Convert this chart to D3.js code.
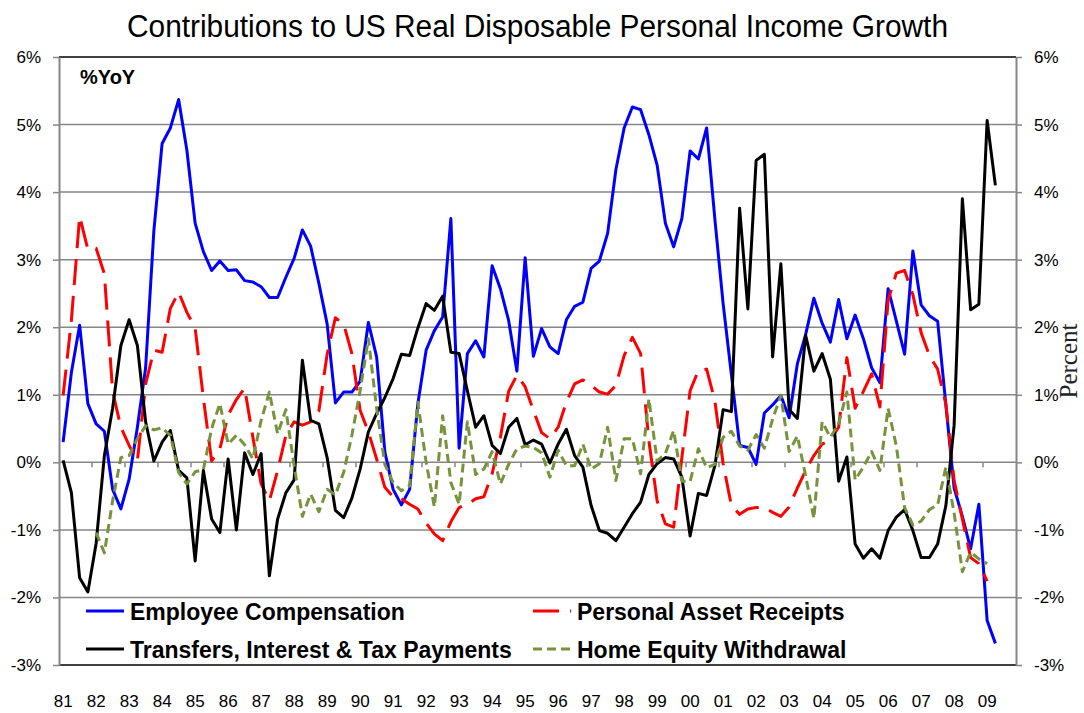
<!DOCTYPE html>
<html>
<head>
<meta charset="utf-8">
<script src="https://d3js.org/d3.v7.min.js"></script>
<style>
  body { margin: 0; background: #fff; }
  text { font-family: "Liberation Sans", Arial, sans-serif; }
</style>
</head>
<body>
<div id="corpo"></div>
<script>
// year labels on the x axis, one per 4 quarters
var years = ["81","82","83","84","85","86","87","88","89","90","91","92","93","94","95",
             "96","97","98","99","00","01","02","03","04","05","06","07","08","09"];
var yTicks = [-3, -2, -1, 0, 1, 2, 3, 4, 5, 6];

var seriesNames = ["Employee Compensation", "Personal Asset Receipts",
                   "Transfers, Interest & Tax Payments", "Home Equity Withdrawal"];

// %YoY contributions, quarterly from 81Q1
var employeeComp = [0.30,1.33,2.03,0.87,0.57,0.46,-0.40,-0.69,-0.25,0.52,
  1.40,3.43,4.72,4.95,5.37,4.62,3.54,3.12,2.84,2.98,
  2.84,2.85,2.69,2.67,2.60,2.44,2.44,2.74,3.02,3.44,
  3.20,2.65,2.05,0.88,1.04,1.04,1.20,2.07,1.56,0.15,
  -0.40,-0.63,-0.40,0.87,1.66,1.95,2.15,3.61,0.21,1.61,
  1.80,1.56,2.91,2.57,2.10,1.35,3.03,1.57,1.98,1.71,
  1.61,2.11,2.31,2.37,2.87,2.98,3.39,4.33,4.95,5.26,
  5.22,4.85,4.40,3.54,3.19,3.61,4.61,4.49,4.95,3.60,
  2.35,1.30,0.25,0.22,-0.03,0.73,0.85,0.99,0.66,1.46,
  1.89,2.43,2.06,1.78,2.41,1.83,2.18,1.83,1.40,1.18,
  2.57,2.09,1.60,3.13,2.33,2.17,2.09,0.85,-0.38,-0.80,
  -1.28,-0.62,-2.34,-2.68];

var assetReceipts = [0.99,2.10,3.64,3.15,3.17,2.79,1.05,0.52,0.25,0.02,
  1.16,1.66,1.63,2.28,2.52,2.22,1.99,0.95,0.02,0.20,
  0.70,0.93,1.10,0.37,-0.32,-0.57,-0.12,0.40,0.60,0.55,
  0.60,0.76,1.60,2.14,2.05,1.61,0.77,0.45,0.05,-0.37,
  -0.51,-0.54,-0.62,-0.69,-0.90,-1.06,-1.16,-0.88,-0.67,-0.62,
  -0.54,-0.51,-0.17,0.37,1.05,1.29,1.12,0.77,0.44,0.35,
  0.52,0.89,1.16,1.22,1.14,1.04,1.01,1.14,1.58,1.85,
  1.61,0.32,-0.57,-0.91,-0.96,0.07,1.06,1.36,1.38,0.91,
  -0.02,-0.64,-0.77,-0.69,-0.67,-0.67,-0.74,-0.80,-0.66,-0.38,
  -0.12,0.10,0.27,0.33,0.52,1.55,0.80,1.05,1.31,0.82,
  2.40,2.80,2.84,2.48,1.92,1.58,1.38,0.86,-0.27,-0.84,
  -1.41,-1.50,-1.76];

var transfersTax = [0.03,-0.45,-1.71,-1.92,-1.20,0.10,0.80,1.73,2.11,1.73,
  0.60,0.02,0.30,0.47,-0.12,-0.23,-1.46,-0.12,-0.84,-1.04,
  0.05,-1.00,0.14,-0.18,0.13,-1.68,-0.84,-0.45,-0.26,1.51,
  0.62,0.57,0.07,-0.71,-0.82,-0.53,-0.10,0.45,0.72,0.96,
  1.24,1.60,1.58,1.99,2.35,2.25,2.46,1.63,1.61,1.06,
  0.52,0.69,0.25,0.13,0.52,0.65,0.26,0.33,0.27,-0.01,
  0.27,0.49,0.10,-0.07,-0.64,-1.01,-1.05,-1.16,-0.96,-0.76,
  -0.59,-0.18,-0.02,0.07,0.05,-0.22,-1.09,-0.46,-0.49,-0.05,
  0.78,0.75,3.76,2.27,4.47,4.56,1.56,2.94,0.78,0.65,
  1.88,1.35,1.61,1.23,-0.28,0.08,-1.21,-1.42,-1.28,-1.42,
  -1.01,-0.81,-0.70,-1.01,-1.41,-1.41,-1.21,-0.64,0.55,3.90,
  2.26,2.34,5.06,4.10];

var homeEquity = [null,null,null,null,-1.04,-1.34,-0.57,0.07,0.10,0.35,
  0.54,0.48,0.51,0.40,-0.15,-0.32,-0.14,-0.11,0.50,0.87,
  0.27,0.40,0.26,0.05,0.62,1.04,0.42,0.78,-0.05,-0.80,
  -0.47,-0.73,-0.40,-0.48,-0.15,0.40,1.06,1.83,0.80,-0.03,
  -0.30,-0.42,-0.35,0.89,0.00,-0.66,0.69,-0.30,-0.62,0.60,
  -0.18,-0.10,0.16,-0.32,-0.03,0.20,0.24,0.22,0.14,-0.22,
  0.18,-0.05,-0.05,0.27,-0.10,-0.02,0.52,-0.27,0.35,0.35,
  -0.17,0.94,0.02,0.13,0.47,-0.28,-0.28,0.20,-0.08,-0.03,
  0.37,0.46,0.24,0.18,0.41,0.21,0.64,0.99,0.16,0.39,
  -0.20,-0.83,0.60,0.37,0.57,1.04,-0.26,-0.07,0.16,-0.12,
  0.80,0.24,-0.67,-0.93,-0.87,-0.70,-0.63,-0.07,-0.75,-1.62,
  -1.33,-1.43,-1.50];

// quarter categories built from the year labels
var quarters = [];
years.forEach(function(yr){
    ["Q1","Q2","Q3","Q4"].forEach(function(q){ quarters.push(yr + q); });
});

var width = 1084, height = 713;
var plotLeft = 59, plotRight = 1016, plotTop = 57, plotBottom = 665;
var gridColor = "#868686";

var svg = d3.select("#corpo").append("svg")
    .attr("width", width)
    .attr("height", height);

var x = d3.scaleBand().domain(quarters).range([plotLeft, plotRight]);
var y = d3.scaleLinear().domain([-3, 6]).range([plotBottom, plotTop]);

function cx(i){ return x(quarters[i]) + x.bandwidth() / 2; }

// title (narrow face, squeezed to the reference width)
svg.append("text")
    .attr("x", 537.5)
    .attr("y", 37)
    .attr("text-anchor", "middle")
    .attr("textLength", 821)
    .attr("lengthAdjust", "spacingAndGlyphs")
    .style("font-family", "'Liberation Sans Narrow', 'Arial Narrow', 'Liberation Sans', sans-serif")
    .style("font-size", "31px")
    .style("fill", "#000")
    .text("Contributions to US Real Disposable Personal Income Growth");

// gridlines
svg.append("g").selectAll("line")
    .data(yTicks.filter(function(d){ return d > -3 && d < 6; }))
    .enter().append("line")
    .attr("x1", plotLeft).attr("x2", plotRight)
    .attr("y1", function(d){ return y(d); })
    .attr("y2", function(d){ return y(d); })
    .style("stroke", gridColor)
    .style("stroke-width", 1.5);

// black border top and bottom of plot area
svg.append("line").attr("x1", plotLeft).attr("x2", plotRight).attr("y1", plotTop).attr("y2", plotTop)
    .style("stroke", "#000").style("stroke-width", 1.5);
svg.append("line").attr("x1", plotLeft).attr("x2", plotRight).attr("y1", plotBottom).attr("y2", plotBottom)
    .style("stroke", "#000").style("stroke-width", 1.5);

// minor tick marks on the zero line, every 4 quarters
svg.append("g").selectAll("line")
    .data(d3.range(4, quarters.length, 4))
    .enter().append("line")
    .attr("x1", function(i){ return x(quarters[i]); })
    .attr("x2", function(i){ return x(quarters[i]); })
    .attr("y1", y(0)).attr("y2", y(0) + 5)
    .style("stroke", gridColor)
    .style("stroke-width", 1.5);

// y axes on both sides
var pctFormat = function(d){ return d + "%"; };
var yLeft = svg.append("g")
    .attr("transform", "translate(" + plotLeft + ",0)")
    .call(d3.axisLeft(y).tickValues(yTicks).tickFormat(pctFormat)
        .tickSize(6).tickSizeOuter(0).tickPadding(12));
var yRight = svg.append("g")
    .attr("transform", "translate(" + plotRight + ",0)")
    .call(d3.axisRight(y).tickValues(yTicks).tickFormat(pctFormat)
        .tickSize(6).tickSizeOuter(0).tickPadding(12));

[yLeft, yRight].forEach(function(ax){
    ax.select(".domain").style("stroke", gridColor).style("stroke-width", 2);
    ax.selectAll(".tick line").style("stroke", gridColor).style("stroke-width", 1.5);
    ax.selectAll("text")
        .style("font-family", "'Liberation Sans', Arial, sans-serif")
        .style("font-size", "17px")
        .style("fill", "#000");
});

// x labels at the bottom
var xAxis = svg.append("g")
    .attr("transform", "translate(0," + plotBottom + ")")
    .call(d3.axisBottom(x)
        .tickValues(quarters.filter(function(q, i){ return i % 4 == 0; }))
        .tickFormat(function(q){ return q.slice(0, 2); })
        .tickSize(0).tickPadding(30));
xAxis.select(".domain").remove();
xAxis.selectAll("text")
    .style("font-family", "'Liberation Sans', Arial, sans-serif")
    .style("font-size", "17px")
    .style("fill", "#000");

// series
var series = [
    { name: seriesNames[0], values: employeeComp,  color: "#0000FF", dash: null },
    { name: seriesNames[1], values: assetReceipts, color: "#FF0000", dash: "26,11" },
    { name: seriesNames[2], values: transfersTax,  color: "#000000", dash: null },
    { name: seriesNames[3], values: homeEquity,    color: "#77933C", dash: "9,5" }
];

var line = d3.line()
    .defined(function(d){ return d != null; })
    .x(function(d, i){ return cx(i); })
    .y(function(d){ return y(d); });

svg.append("g").selectAll("path")
    .data(series)
    .enter().append("path")
    .attr("d", function(s){ return line(s.values); })
    .style("fill", "none")
    .style("stroke", function(s){ return s.color; })
    .style("stroke-width", 3)
    .style("stroke-linejoin", "round")
    .style("stroke-dasharray", function(s){ return s.dash; });

// "%YoY" label
svg.append("text")
    .attr("x", 80).attr("y", 84)
    .style("font-weight", "bold")
    .style("font-size", "20px")
    .text("%YoY");

// legend, two columns
var legX = [86, 533], legRowY = [611, 649];
var leg = svg.append("g").selectAll("g")
    .data(series)
    .enter().append("g")
    .attr("transform", function(s, i){
        return "translate(" + legX[i % 2] + "," + legRowY[Math.floor(i / 2)] + ")";
    });
leg.append("line")
    .attr("x1", 0).attr("x2", 38).attr("y1", 0).attr("y2", 0)
    .style("stroke", function(s){ return s.color; })
    .style("stroke-width", 3)
    .style("stroke-dasharray", function(s){ return s.dash; });
leg.append("text")
    .attr("x", 44).attr("y", 9)
    .style("font-weight", "bold")
    .style("font-size", "23px")
    .style("fill", "#000")
    .text(function(s){ return s.name; });

// right-hand axis title at the very edge
svg.append("text")
    .attr("transform", "translate(1077,361) rotate(-90)")
    .attr("text-anchor", "middle")
    .style("font-family", "'Liberation Serif', 'Times New Roman', serif")
    .style("font-size", "25px")
    .style("fill", "#222")
    .text("Percent");
</script>
</body>
</html>
